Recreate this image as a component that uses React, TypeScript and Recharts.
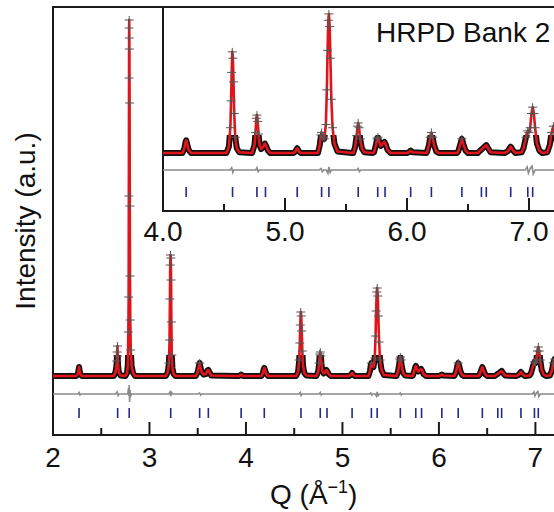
import { ComposedChart, Line, Scatter, XAxis, YAxis, ReferenceArea } from 'recharts'

// observed = calculated profile, [Q (1/Å), counts]
const pattern: [number, number][] = [
  [2.0, 600], [2.2, 600],
  [2.24, 600], [2.258, 620], [2.265, 660], [2.27, 690], [2.276, 650], [2.285, 615], [2.3, 600],
  [2.6, 600], [2.63, 600], [2.648, 640], [2.656, 690], [2.661, 750], [2.665, 840], [2.668, 900],
  [2.671, 800], [2.675, 700], [2.682, 640], [2.7, 605],
  [2.75, 600], [2.768, 630], [2.776, 720], [2.781, 1040], [2.784, 1390], [2.786, 2400], [2.788, 3580],
  [2.789, 4080], [2.79, 4160], [2.791, 3980], [2.792, 3870], [2.794, 3330], [2.796, 2300], [2.798, 1600],
  [2.801, 1160], [2.806, 860], [2.815, 700], [2.83, 630], [2.85, 600],
  [3.17, 600], [3.19, 640], [3.202, 730], [3.208, 960], [3.212, 1370], [3.215, 1710], [3.218, 1810],
  [3.221, 1780], [3.224, 1560], [3.227, 1140], [3.231, 810], [3.238, 680], [3.25, 620], [3.27, 600],
  [3.48, 600], [3.5, 640], [3.512, 700], [3.52, 730], [3.528, 690], [3.54, 640], [3.56, 615],
  [3.585, 620], [3.6, 655], [3.61, 660], [3.62, 640], [3.64, 605],
  [3.9, 600], [3.93, 600], [3.95, 615], [3.97, 600],
  [4.15, 600], [4.16, 600], [4.175, 630], [4.185, 670], [4.19, 680], [4.197, 660], [4.21, 620], [4.23, 600],
  [4.5, 600], [4.52, 600], [4.54, 640], [4.552, 760], [4.558, 930], [4.563, 1110], [4.568, 1240],
  [4.573, 1200], [4.578, 1050], [4.584, 850], [4.592, 700], [4.605, 630], [4.625, 605],
  [4.72, 600], [4.73, 600], [4.75, 650], [4.758, 730], [4.765, 820], [4.77, 840], [4.776, 800],
  [4.783, 720], [4.792, 650], [4.805, 625], [4.822, 640], [4.835, 660], [4.845, 645], [4.86, 615], [4.88, 600],
  [5.07, 600], [5.085, 610], [5.1, 630], [5.115, 610], [5.13, 600],
  [5.27, 600], [5.285, 650], [5.295, 715], [5.3, 730], [5.31, 700], [5.322, 690], [5.335, 780],
  [5.343, 1000], [5.349, 1250], [5.355, 1440], [5.36, 1480], [5.366, 1400], [5.372, 1200], [5.38, 940],
  [5.39, 760], [5.405, 660], [5.43, 610],
  [5.55, 600], [5.56, 600], [5.575, 640], [5.587, 710], [5.595, 770], [5.6, 790], [5.607, 760],
  [5.616, 690], [5.63, 630], [5.65, 605],
  [5.72, 600], [5.73, 605], [5.745, 650], [5.755, 690], [5.762, 700], [5.772, 670], [5.785, 645],
  [5.8, 660], [5.815, 670], [5.825, 655], [5.84, 620], [5.865, 600],
  [6.0, 600], [6.015, 605], [6.03, 615], [6.045, 605],
  [6.16, 600], [6.165, 610], [6.18, 650], [6.19, 700], [6.2, 730], [6.21, 700], [6.222, 650], [6.24, 610], [6.26, 600],
  [6.41, 600], [6.42, 610], [6.435, 650], [6.45, 690], [6.463, 655], [6.48, 615], [6.5, 600],
  [6.58, 600], [6.6, 615], [6.615, 625], [6.635, 640], [6.65, 650], [6.665, 630], [6.685, 605],
  [6.8, 600], [6.825, 610], [6.85, 640], [6.87, 615], [6.89, 600],
  [6.94, 605], [6.955, 630], [6.975, 700], [6.99, 740], [7.0, 730], [7.01, 760], [7.02, 850], [7.03, 890],
  [7.04, 850], [7.05, 760], [7.065, 660], [7.085, 615], [7.11, 600],
  [7.15, 605], [7.17, 650], [7.185, 730], [7.2, 770], [7.215, 720], [7.235, 640], [7.26, 605], [7.3, 600],
  [7.5, 600],
]

// obs - calc, counts
const residual: [number, number][] = [
  [2.0, 0], [2.26, 0], [2.27, 15], [2.28, -10], [2.29, 0],
  [2.65, 0], [2.665, 20], [2.675, -15], [2.685, 0],
  [2.775, 0], [2.783, 60], [2.787, -20], [2.79, 90], [2.794, -80], [2.798, 40], [2.805, -20], [2.815, 0],
  [3.2, 0], [3.213, 20], [3.22, -20], [3.228, 15], [3.24, 0],
  [3.5, 0], [3.52, 10], [3.53, -10], [3.54, 0],
  [4.55, 0], [4.563, 15], [4.572, -15], [4.58, 0],
  [4.76, 0], [4.77, 15], [4.78, -10], [4.79, 0],
  [5.28, 0], [5.295, 10], [5.305, -10], [5.315, 0],
  [5.34, 0], [5.352, -20], [5.36, 20], [5.37, -15], [5.38, 0],
  [5.59, 0], [5.6, 10], [5.61, -10], [5.62, 0],
  [6.97, 0], [6.985, 20], [6.995, -20], [7.01, 10], [7.025, 25], [7.035, -25], [7.05, 0],
  [7.5, 0],
]

// Bragg reflection positions
const reflections = [
  2.27, 2.67, 2.79, 3.22, 3.52, 3.61, 3.95, 4.19, 4.57, 4.77, 4.84, 5.1, 5.3, 5.36, 5.6,
  5.76, 5.82, 6.03, 6.2, 6.45, 6.61, 6.65, 6.85, 6.99, 7.03, 7.24,
]

const mainTicks = [2, 2.5, 3, 3.5, 4, 4.5, 5, 5.5, 6, 6.5, 7]
const insetTicks = [4, 4.5, 5, 5.5, 6, 6.5, 7, 7.5]

const MAIN_Y = [10, 4290]
const INSET_Y = [233, 1524]
const MAIN_DIFF = 420
const MAIN_REFL = 230
const INSET_DIFF = 492
const INSET_REFL = 353

const FONT = "'Liberation Sans', Arial, sans-serif"
const RED = '#e2141b'

const obsData = pattern.map(([q, v]) => ({ q, v }))
// keep one point left of 4.0 so the clipped lines reach the inset frame
const insetObs = obsData.filter(d => d.q >= 3.9)

function MainTick(props: any) {
  const { x, y, payload } = props
  const major = payload.value % 1 === 0
  return (
    <g>
      <line x1={x} x2={x} y1={y} y2={y - (major ? 13 : 7)} stroke="#1a1a1a" strokeWidth={2} />
      {major && (
        <text x={x} y={y + 32} textAnchor="middle" fontSize={28} fontFamily={FONT} fill="#111">
          {payload.value}
        </text>
      )}
    </g>
  )
}

function InsetTick(props: any) {
  const { x, y, payload } = props
  const major = payload.value % 1 === 0
  return (
    <g>
      <line x1={x} x2={x} y1={y} y2={y - (major ? 13 : 7)} stroke="#1a1a1a" strokeWidth={2} />
      {major && (
        <text x={x} y={y + 30} textAnchor="middle" fontSize={28} fontFamily={FONT} fill="#111">
          {payload.value.toFixed(1)}
        </text>
      )}
    </g>
  )
}

const Cross = (props: any) => {
  const { cx, cy } = props
  return <path d={`M${cx - 4.5},${cy}H${cx + 4.5}M${cx},${cy - 4}V${cy + 4}`} stroke="#555" strokeWidth={1} fill="none" />
}

const ReflTick = (props: any) => {
  const { cx, cy } = props
  return <line x1={cx} x2={cx} y1={cy - 5} y2={cy + 5} stroke="#23298a" strokeWidth={1.6} />
}

function Panel({ inset, band }: { inset?: boolean; band?: boolean }) {
  const domainX = inset ? [4, 7.5] : [2, 7.4]
  const domainY = inset ? INSET_Y : MAIN_Y
  const obs = inset ? insetObs : obsData
  // markers only where they stand clear of the background band
  const markers = obs.filter(d => d.q >= domainX[0] && d.v >= (inset ? 690 : 730))
  const diffOffset = inset ? INSET_DIFF : MAIN_DIFF
  const diffData = residual
    .filter(([q]) => !inset || q >= 3.5)
    .map(([q, r]) => ({ q, v: diffOffset + r }))
  const reflData = reflections
    .filter(q => !inset || q >= 4)
    .map(q => ({ q, v: inset ? INSET_REFL : MAIN_REFL }))

  const width = inset ? 595 : 579
  const height = inset ? 260 : 512
  const margin = inset
    ? { top: 7, right: 5, bottom: 0, left: 163 }
    : { top: 7, right: 5, bottom: 0, left: 0 }

  return (
    <ComposedChart width={width} height={height} margin={margin}>
      <XAxis
        dataKey="q"
        type="number"
        domain={domainX}
        ticks={inset ? insetTicks : mainTicks}
        interval={0}
        allowDataOverflow
        axisLine={false}
        tickLine={false}
        tickSize={0}
        tickMargin={0}
        height={inset ? 49 : 77}
        tick={band ? false : inset ? <InsetTick /> : <MainTick />}
        label={
          band || inset
            ? undefined
            : {
                content: () => (
                  <text x={270} y={504} fontSize={28} fontFamily={FONT} fill="#111">
                    Q (Å<tspan dy={-11} fontSize={18}>−1</tspan>
                    <tspan dy={11} fontSize={28}>)</tspan>
                  </text>
                ),
              }
        }
      />
      <YAxis
        dataKey="v"
        type="number"
        domain={domainY}
        allowDataOverflow
        hide={inset}
        width={53}
        tick={false}
        tickLine={false}
        axisLine={false}
        label={
          band || inset
            ? undefined
            : {
                content: () => (
                  <text
                    x={35}
                    y={221}
                    transform="rotate(-90 35 221)"
                    textAnchor="middle"
                    fontSize={28}
                    fontFamily={FONT}
                    fill="#111"
                  >
                    Intensity (a.u.)
                  </text>
                ),
              }
        }
      />
      {!band && (
        <ReferenceArea
          x1={domainX[0]}
          x2={domainX[1]}
          y1={domainY[0]}
          y2={domainY[1]}
          fill="none"
          stroke="#1a1a1a"
          strokeWidth={2}
          ifOverflow="visible"
          label={
            inset
              ? {
                  content: () => (
                    <text x={376} y={42} fontSize={28} fontFamily={FONT} fill="#111">
                      HRPD Bank 2
                    </text>
                  ),
                }
              : undefined
          }
        />
      )}
      {band && (
        <Line
          data={obs}
          dataKey="v"
          type="linear"
          stroke="#111"
          strokeWidth={6}
          strokeLinejoin="round"
          dot={false}
          isAnimationActive={false}
        />
      )}
      {!band && (
        <Line
          data={diffData}
          dataKey="v"
          type="linear"
          stroke="#8a8a8a"
          strokeWidth={1.6}
          dot={false}
          isAnimationActive={false}
        />
      )}
      {!band && <Scatter data={reflData} dataKey="v" shape={<ReflTick />} isAnimationActive={false} />}
      {!band && (
        <Line
          data={obs}
          dataKey="v"
          type="linear"
          stroke={RED}
          strokeWidth={2.6}
          strokeLinejoin="round"
          dot={false}
          isAnimationActive={false}
        />
      )}
      {!band && <Scatter data={markers} dataKey="v" shape={<Cross />} isAnimationActive={false} />}
    </ComposedChart>
  )
}

const layer: React.CSSProperties = { position: 'absolute', left: 0, top: 0 }

export default function App() {
  return (
    <div
      style={{
        position: 'fixed',
        left: 0,
        top: 0,
        width: 554,
        height: 512,
        overflow: 'hidden',
        background: '#fff',
        fontFamily: FONT,
      }}
    >
      <div style={{ ...layer, clipPath: 'inset(355px 0 120px 0)' }}>
        <Panel band />
      </div>
      <div style={layer}>
        <Panel />
      </div>
      <div style={{ position: 'absolute', left: 163, top: 7, width: 432, height: 204, background: '#fff' }} />
      <div style={{ ...layer, clipPath: 'inset(135px 0 90px 0)' }}>
        <Panel inset band />
      </div>
      <div style={layer}>
        <Panel inset />
      </div>
    </div>
  )
}
